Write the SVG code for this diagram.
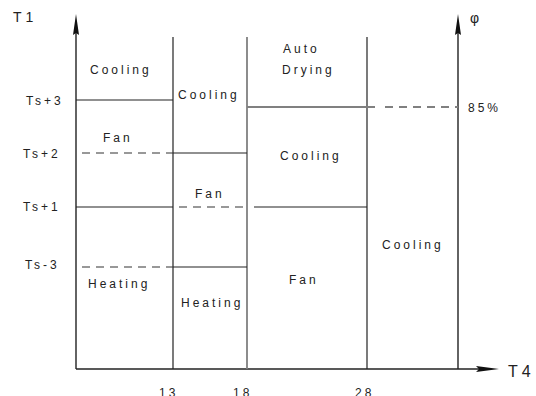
<svg xmlns="http://www.w3.org/2000/svg" width="536" height="396" viewBox="0 0 536 396">
<style>
text{font-family:"Liberation Sans",Arial,sans-serif;font-size:12px;fill:#222;letter-spacing:3px}
.ax{stroke:#222;stroke-width:1.4;fill:none}
.ln{stroke:#222;stroke-width:1.2;fill:none}
.gr{stroke:#808080;stroke-width:1.8;fill:none}
.ds{stroke:#333;stroke-width:1.2;stroke-dasharray:8,6;fill:none}
.dg{stroke:#808080;stroke-width:1.8;stroke-dasharray:8,6;fill:none}
.big{font-size:14px;letter-spacing:4px}
</style>
<rect width="536" height="396" fill="#fff"/>
<g id="connectors">
<line class="ax" x1="76" y1="30" x2="76" y2="369"/>
<polygon points="76,14 79,35 76,33 73,35" fill="#111"/>
<line class="ax" x1="76" y1="369" x2="480" y2="369"/>
<polygon points="476,366 499,369 476,372 479,369" fill="#111"/>
<line class="ax" x1="458" y1="30" x2="458" y2="369"/>
<polygon points="458,14 461,35 458,33 455,35" fill="#111"/>
<line class="ln" x1="173" y1="37" x2="173" y2="369"/>
<line class="gr" x1="247" y1="37" x2="247" y2="369"/>
<line class="ln" x1="367" y1="37" x2="367" y2="369"/>
<line class="ln" x1="76" y1="100" x2="173" y2="100"/>
<line class="gr" x1="247" y1="107" x2="375" y2="107"/>
<line class="dg" x1="385" y1="107" x2="458" y2="107"/>
<line class="ds" x1="82" y1="153" x2="173" y2="153"/>
<line class="ln" x1="173" y1="153" x2="247" y2="153"/>
<line class="ln" x1="76" y1="207" x2="173" y2="207"/>
<line class="ds" x1="179" y1="207" x2="247" y2="207"/>
<line class="ln" x1="254" y1="207" x2="367" y2="207"/>
<line class="ds" x1="82" y1="267" x2="173" y2="267"/>
<line class="ln" x1="173" y1="267" x2="247" y2="267"/>
</g>
<g id="axis-labels">
<text class="big" x="13" y="22">T1</text>
<text x="470" y="23" style="font-size:14px;letter-spacing:0">φ</text>
<text class="big" x="508" y="377" style="font-size:16px">T4</text>
<text x="26" y="105">Ts+3</text>
<text x="23" y="158">Ts+2</text>
<text x="23" y="211">Ts+1</text>
<text x="25" y="269">Ts-3</text>
<text x="468" y="112">85%</text>
<text x="159" y="397">13</text>
<text x="233" y="397">18</text>
<text x="355" y="397">28</text>
</g>
<g id="zone-labels">
<text x="90" y="74">Cooling</text>
<text x="178" y="99">Cooling</text>
<text x="103" y="142">Fan</text>
<text x="195" y="198">Fan</text>
<text x="88" y="288">Heating</text>
<text x="181" y="307">Heating</text>
<text x="283" y="53">Auto</text>
<text x="282" y="74">Drying</text>
<text x="280" y="160">Cooling</text>
<text x="289" y="284">Fan</text>
<text x="382" y="249">Cooling</text>
</g>
</svg>
